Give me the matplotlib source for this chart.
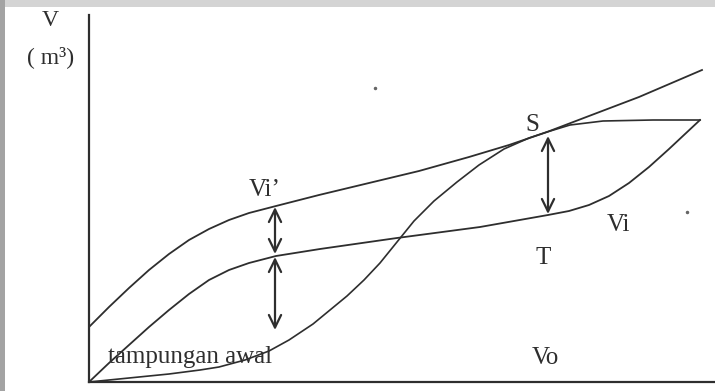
import matplotlib
matplotlib.use("Agg")
import matplotlib.pyplot as plt
from matplotlib.patches import Rectangle

plt.rcParams['font.family'] = ['Liberation Serif', 'DejaVu Serif']

# mass curve (x = time, y = volume, arbitrary units)
vi_prime_x = [0, 20, 40, 60, 80, 100, 120, 140, 160, 187, 230, 280, 330, 380, 420, 458, 500, 550, 613]
vi_prime_y = [55, 75, 94, 112, 128, 142, 153, 162, 169, 176, 187, 199, 211, 225, 237, 250, 266, 285, 312]

vi_x = [0, 20, 40, 60, 80, 100, 120, 140, 160, 187, 231, 308, 391, 459, 480, 500, 520, 540, 560, 580, 611]
vi_y = [0, 19, 37, 55, 72, 88, 102, 112, 119, 126, 133, 144, 155, 167, 171, 177, 186, 199, 215, 233, 262]

vo_x = [0, 40, 80, 111, 130, 156, 180, 200, 224, 258, 275, 291, 308, 325, 345, 368, 390, 415,
        440, 458, 481, 514, 564, 611]
vo_y = [0, 4, 8, 12, 15, 22, 31, 42, 58, 86, 102, 119, 140, 161, 181, 200, 217, 233,
        244, 250, 257, 261, 262, 262]

# double arrows: (x, y_top, y_bottom)
arrows = [(186, 175, 128), (186, 125, 52), (459, 246, 168)]

# labels: (text, x, y)
labels = [("Vi\u2019", 176, 192), ("S", 443, 257), ("T", 454, 124),
          ("Vi", 529, 157), ("Vo", 456, 24)]

ink = '#2e2e2e'

fig = plt.figure(figsize=(7.15, 3.91), dpi=100)
ax = fig.add_axes([89 / 715, 9 / 391, 626 / 715, 367 / 391])
ax.set_xlim(0, 626)
ax.set_ylim(0, 367)

ax.plot(vi_prime_x, vi_prime_y, color=ink, lw=1.3, solid_joinstyle='round')
ax.plot(vi_x, vi_y, color=ink, lw=1.3, solid_joinstyle='round')
ax.plot(vo_x, vo_y, color=ink, lw=1.2, solid_joinstyle='round')

for x, y1, y2 in arrows:
    ax.annotate('', xy=(x, y1), xytext=(x, y2),
                arrowprops=dict(arrowstyle='<->,head_length=0.45,head_width=0.22',
                                lw=1.6, color=ink, shrinkA=0, shrinkB=0,
                                mutation_scale=20))

for txt, x, y in labels:
    ax.text(x, y, txt, ha='center', va='center', fontsize=18, color=ink)
ax.text(19, 25, 'tampungan awal', ha='left', va='center', fontsize=18, color=ink)

# axis titles
ax.text(-39, 362, 'V', ha='center', va='center', fontsize=17, color=ink, clip_on=False)
ax.text(-38, 325, '( m\u00b3)', ha='center', va='center', fontsize=17, color=ink, clip_on=False)

# scan specks
ax.plot([286, 598], [294, 170], 'o', ms=1.5, color='#666666')

for s in ['top', 'right']:
    ax.spines[s].set_visible(False)
for s in ['left', 'bottom']:
    ax.spines[s].set_linewidth(1.6)
    ax.spines[s].set_color(ink)
ax.set_xticks([])
ax.set_yticks([])
ax.patch.set_alpha(0)

# grey scan border
fig.patches.append(Rectangle((0, 1 - 7 / 391), 1, 7 / 391, transform=fig.transFigure,
                             facecolor='#d4d4d4', edgecolor='none'))
fig.patches.append(Rectangle((0, 0), 5 / 715, 1, transform=fig.transFigure,
                             facecolor='#a3a3a3', edgecolor='none'))

fig.savefig('out.png', dpi=100)
